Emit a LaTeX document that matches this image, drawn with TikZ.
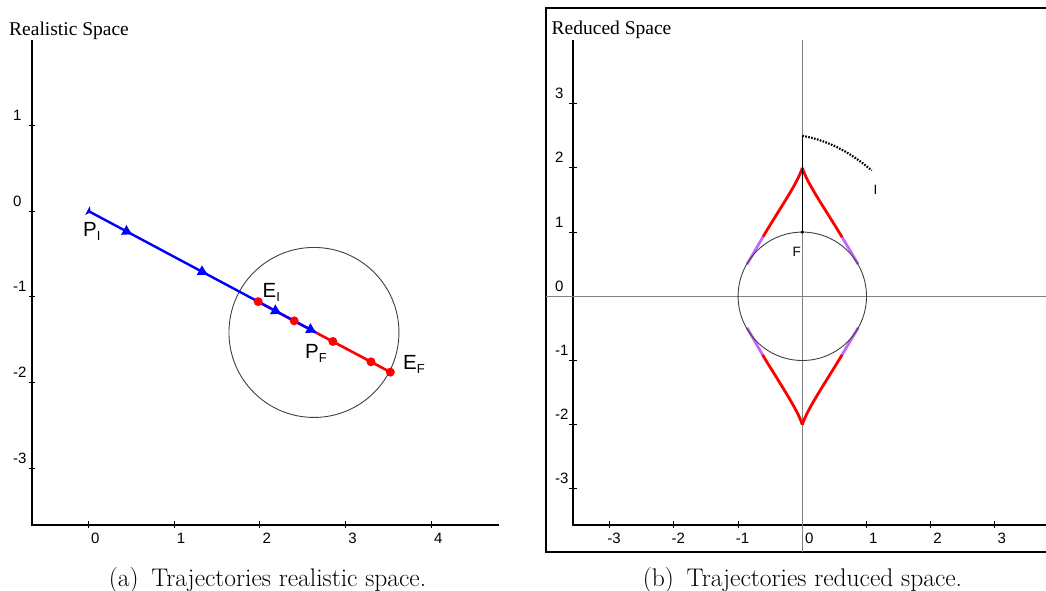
\documentclass[tikz,border=0pt]{standalone}
\usepackage{fontspec}
\newfontfamily\plotsans{Liberation Sans}
\newfontfamily\plotserif{Liberation Serif}
\usetikzlibrary{arrows.meta,calc,decorations.markings}

\definecolor{lilac}{RGB}{190,105,255}
\newcommand{\ptlabel}[2]{#1\raisebox{-4pt}{\fontsize{13}{13}\selectfont #2}}

\begin{document}
\begin{tikzpicture}[x=1pt,y=-1pt,
axis/.style={line width=1.1pt},
tick/.style={line width=0.9pt},
zeroaxis/.style={gray,line width=1.4pt},
ring/.style={black!75,line width=0.9pt},
tlabel/.style={anchor=base west,inner sep=0pt,font=\plotsans\fontsize{15}{15}\selectfont},
title/.style={anchor=base west,inner sep=0pt,font=\plotserif\fontsize{19.5}{20}\selectfont},
caption/.style={anchor=base,inner sep=0pt,font=\fontsize{25.5}{30}\selectfont},
ptname/.style={anchor=base west,inner sep=0pt,font=\plotsans\fontsize{20.5}{21}\selectfont},
smallname/.style={anchor=base west,inner sep=0pt,font=\plotsans\fontsize{13.5}{14}\selectfont},
redpath/.style={red,line width=2.6pt},
bluepath/.style={blue,line width=2.4pt,postaction={decorate},
  decoration={markings,
  mark=at position 0.012 with {\arrow{Latex[length=4pt,width=11pt]}},
  mark=at position 0.2 with {\arrow{Latex[length=11pt,width=12pt]}},
  mark=at position 0.535 with {\arrow{Latex[length=11pt,width=12pt]}},
  mark=at position 0.86 with {\arrow{Latex[length=11pt,width=12pt]}},
  mark=at position 1 with {\arrow[xshift=4pt]{Latex[length=11pt,width=12pt]}}}},
reddot/.style={fill=red},
cusp/.style={red,line width=2.8pt},
tangent/.style={lilac,line width=2.8pt},
frame/.style={line width=1.1pt}]
\useasboundingbox (0,0) rectangle (1046,591);

% realistic space
\node[title] (titleL) at (9,35.5) {Realistic Space};
\coordinate (ytopL) at (32,40);
\coordinate (oL) at (32,525);
\coordinate (xendL) at (499,525);
\draw[axis] (ytopL) -- (oL) -- (xendL);
\foreach \t in {1,0,-1,-2,-3}{
  \draw[tick] (29,{211-85.7*\t}) -- ++(6,0);
  \node[tlabel] (ylL\t) at (13,{206-85.7*\t}) {\t};
}
\foreach \t in {0,...,4}{
  \draw[tick] ({88.3+85.8*\t},521) -- ++(0,7);
  \node[tlabel] (xlL\t) at ({90.8+85.8*\t},543) {\t};
}
\begin{scope}[shift={(88.3,211)},x=85.8pt,y=85.7pt]
\coordinate (PI) at (0,0);
\coordinate (EI) at (1.98,-1.06);
\coordinate (PF) at (2.63,-1.405);
\coordinate (EF) at (3.52,-1.88);
\draw[ring] (2.63,-1.417) circle (85pt);
\draw[redpath] (EI) -- (EF);
\draw[bluepath] (PI) -- (PF);
\foreach \p in {1.98,2.40,2.85,3.295,3.52}
  \fill[reddot] ($(PI)!{\p/3.52}!(EF)$) circle (4.5pt);
\end{scope}
\node[ptname] (lPI) at (83,236.7) {\ptlabel{P}{I}};
\node[ptname] (lEI) at (262.5,297.3) {\ptlabel{E}{I}};
\node[ptname] (lPF) at (305,358) {\ptlabel{P}{F}};
\node[ptname] (lEF) at (403,369.3) {\ptlabel{E}{F}};
\node[caption] (capA) at (267.5,586) {(a)\hspace{0.5em}Trajectories realistic space.};

% reduced space
\draw[frame] (546,8) rectangle (1052,552);
\node[title] (titleR) at (551.5,34.5) {Reduced Space};
\coordinate (ytopR) at (573,40);
\coordinate (oR) at (573,525);
\coordinate (xendR) at (1052,525);
\draw[axis] (ytopR) -- (oR) -- (xendR);
\foreach \t in {3,2,1,0,-1,-2,-3}{
  \draw[tick] (569,{296.3-64.2*\t}) -- ++(8,0);
  \node[tlabel] (ylR\t) at (555,{291.3-64.2*\t}) {\t};
}
\foreach \t in {-3,...,3}{
  \pgfmathtruncatemacro\d{abs(\t)}
  \draw[tick] ({802.3+64.2*\t},521) -- ++(0,7);
  \node[tlabel] (xlR\t) at ({804.8+64.2*\t},543) {\ifnum\t<0 \llap{-}\fi\d};
}
\draw[zeroaxis] (802.3,40) -- (802.3,552);
\draw[zeroaxis] (546,296.3) -- (1052,296.3);
\begin{scope}[shift={(802.3,296.3)},x=64.2pt,y=64.2pt]
\coordinate (O) at (0,0);
\coordinate (F) at (0,1);
\coordinate (Top) at (0,2.5);
\coordinate (Cup) at (0,2);
\coordinate (Cdn) at (0,-2);
\coordinate (Iend) at (1.08,1.96);
\coordinate (UL) at (-0.61,0.93);
\coordinate (ULe) at (-0.86,0.5);
\coordinate (UR) at (0.62,0.92);
\coordinate (URe) at (0.87,0.5);
\coordinate (DL) at (-0.62,-0.91);
\coordinate (DLe) at (-0.86,-0.49);
\coordinate (DR) at (0.62,-0.91);
\coordinate (DRe) at (0.87,-0.49);
\draw[tangent] (UL) -- (ULe);
\draw[tangent] (UR) -- (URe);
\draw[tangent] (DL) -- (DLe);
\draw[tangent] (DR) -- (DRe);
\draw[cusp] (Cup) .. controls (-0.08,1.75) and (-0.35,1.37) .. (UL);
\draw[cusp] (Cup) .. controls (0.08,1.75) and (0.35,1.37) .. (UR);
\draw[cusp] (Cdn) .. controls (-0.08,-1.75) and (-0.35,-1.36) .. (DL);
\draw[cusp] (Cdn) .. controls (0.08,-1.75) and (0.35,-1.36) .. (DR);
\draw[ring] (O) circle (64.2pt);
\draw[line width=1.5pt] (F) -- (Top);
\fill (F) circle (1.8pt);
\draw[line width=2.2pt,dash pattern=on 1.6pt off 1.4pt] (Top) .. controls (0.45,2.42) and (0.8,2.2) .. (Iend);
\end{scope}
\node[smallname] (lF) at (792.5,256.7) {F};
\node[smallname] (lI) at (873.5,194) {I};
\node[caption] (capB) at (802.5,586) {(b)\hspace{0.5em}Trajectories reduced space.};
\end{tikzpicture}
\end{document}
